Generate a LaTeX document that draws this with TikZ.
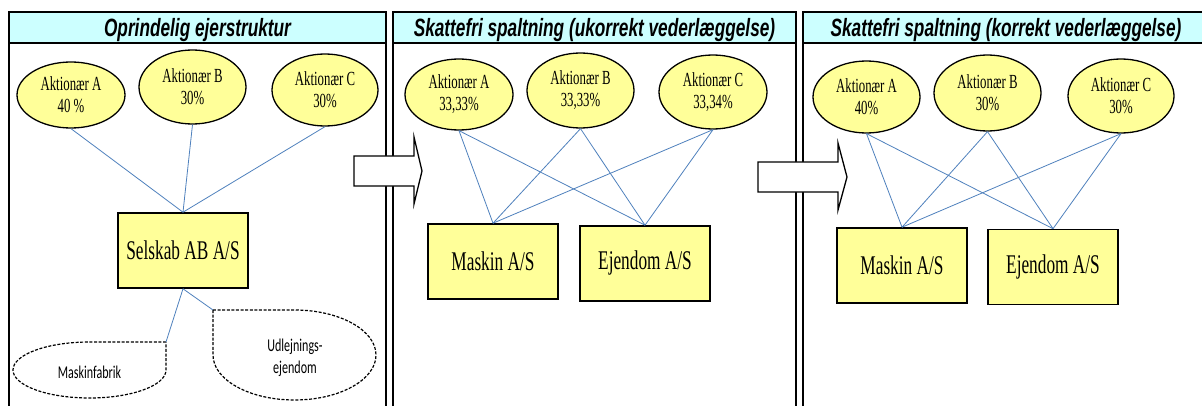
\documentclass[tikz,border=0pt]{standalone}
\usepackage{fontspec}
\setmainfont{Liberation Serif}
\newfontfamily\boxserif[FakeStretch=0.64]{Liberation Serif}
\newfontfamily\headsans[FakeStretch=0.69]{Liberation Sans}
\newfontfamily\notesans[FakeStretch=0.67]{Carlito}
\usetikzlibrary{shapes.geometric}
\definecolor{hdrcyan}{HTML}{CCFFFF}
\definecolor{paleyellow}{HTML}{FFFF99}
\definecolor{linkblue}{HTML}{4F81BD}

\tikzset{
  panel/.style={draw=black, line width=2pt},
  header/.style={draw=black, line width=2pt, fill=hdrcyan},
  headtext/.style={font=\headsans\bfseries\itshape\fontsize{25}{28}\selectfont, inner sep=0pt, anchor=base},
  owner/.style={ellipse, draw=black, line width=1.3pt, fill=paleyellow, inner sep=0pt,
    align=center, font=\boxserif\fontsize{20}{22}\selectfont},
  company/.style={rectangle, draw=black, line width=1.6pt, fill=paleyellow,
    minimum width=130pt, minimum height=75pt, inner sep=0pt,
    font=\boxserif\fontsize{27}{30}\selectfont},
  link/.style={draw=linkblue, line width=0.8pt},
  blockarrow/.style={draw=black, line width=1.3pt, fill=white, line join=miter},
  asset/.style={draw=black, line width=1.2pt, dash pattern=on 3pt off 1.6pt},
  assettext/.style={font=\notesans\fontsize{18}{22}\selectfont, align=center, inner sep=0pt},
}

\begin{document}
\begin{tikzpicture}[x=1pt, y=1pt]
  \useasboundingbox (0,0) rectangle (1202,405);
  \fill[white] (0,0) rectangle (1202,405);
  \clip (0,0) rectangle (1202,405);

  % three panels with their headers
  \draw[panel] (9,-10) rectangle (386,393);
  \draw[header] (9,362) rectangle (386,393);
  \draw[panel] (393,-10) rectangle (796,393);
  \draw[header] (393,362) rectangle (796,393);
  \draw[panel] (803,-10) rectangle (1209,393);
  \draw[header] (803,362) rectangle (1209,393);

  \node[headtext] (t1) at (197.5,368) {Oprindelig ejerstruktur};
  \node[headtext] (t2) at (594.5,368) {Skattefri spaltning (ukorrekt vederlæggelse)};
  \node[headtext] (t3) at (1006,368) {Skattefri spaltning (korrekt vederlæggelse)};

  % --- original ownership ---
  \node[owner, minimum width=108pt, minimum height=66pt] (oA1) at (71,310) {Aktionær A\\40 \%};
  \node[owner, minimum width=107pt, minimum height=74pt] (oB1) at (192.5,318) {Aktionær B\\30\%};
  \node[owner, minimum width=106pt, minimum height=72pt] (oC1) at (325,315) {Aktionær C\\30\%};
  \node[company] (sel) at (183,154.5) {Selskab AB A/S};

  \draw[link] (oA1.south) -- (sel.north);
  \draw[link] (oB1.south) -- (sel.north);
  \draw[link] (oC1.south) -- (sel.north);

  % assets held by the company
  \draw[asset] (166,63) -- (89.5,63)
    arc[start angle=90, end angle=360, x radius=76.5pt, y radius=28pt] -- cycle;
  \coordinate (mfcorner) at (166,63);
  \node[assettext] (mf) at (89.5,33) {Maskinfabrik};

  \draw[asset] (213,95) -- (213,50)
    arc[start angle=180, end angle=450, x radius=81.5pt, y radius=45pt] -- cycle;
  \coordinate (udcorner) at (213,95);
  \node[assettext] (ud) at (295,47) {Udlejnings-\\ejendom};

  \draw[link] (sel.south) -- (mfcorner);
  \draw[link] (sel.south) -- (udcorner);

  % --- demerger, incorrect consideration ---
  \node[owner, minimum width=108pt, minimum height=71pt] (oA2) at (459,310.5) {Aktionær A\\33,33\%};
  \node[owner, minimum width=107pt, minimum height=75pt] (oB2) at (580.5,314.5) {Aktionær B\\33,33\%};
  \node[owner, minimum width=108pt, minimum height=74pt] (oC2) at (713,313) {Aktionær C\\33,34\%};
  \node[company] (mas2) at (493,143.5) {Maskin A/S};
  \node[company] (ejd2) at (645,141.5) {Ejendom A/S};

  \foreach \o in {oA2,oB2,oC2} {
    \draw[link] (\o.south) -- (mas2.north);
    \draw[link] (\o.south) -- (ejd2.north);
  }

  % --- demerger, correct consideration ---
  \node[owner, minimum width=107pt, minimum height=72pt] (oA3) at (866.5,308) {Aktionær A\\40\%};
  \node[owner, minimum width=107pt, minimum height=76pt] (oB3) at (987.5,312) {Aktionær B\\30\%};
  \node[owner, minimum width=106pt, minimum height=74pt] (oC3) at (1121,309) {Aktionær C\\30\%};
  \node[company] (mas3) at (902,139.5) {Maskin A/S};
  \node[company] (ejd3) at (1053,138) {Ejendom A/S};

  \foreach \o in {oA3,oB3,oC3} {
    \draw[link] (\o.south) -- (mas3.north);
    \draw[link] (\o.south) -- (ejd3.north);
  }

  % block arrows between the panels
  \draw[blockarrow] (354,249) -- (414,249) -- (414,268) -- (422,234)
    -- (414,201) -- (414,219) -- (354,219) -- cycle;
  \draw[blockarrow] (758,243) -- (838,243) -- (838,262) -- (847,228)
    -- (838,195) -- (838,213) -- (758,213) -- cycle;
\end{tikzpicture}
\end{document}
